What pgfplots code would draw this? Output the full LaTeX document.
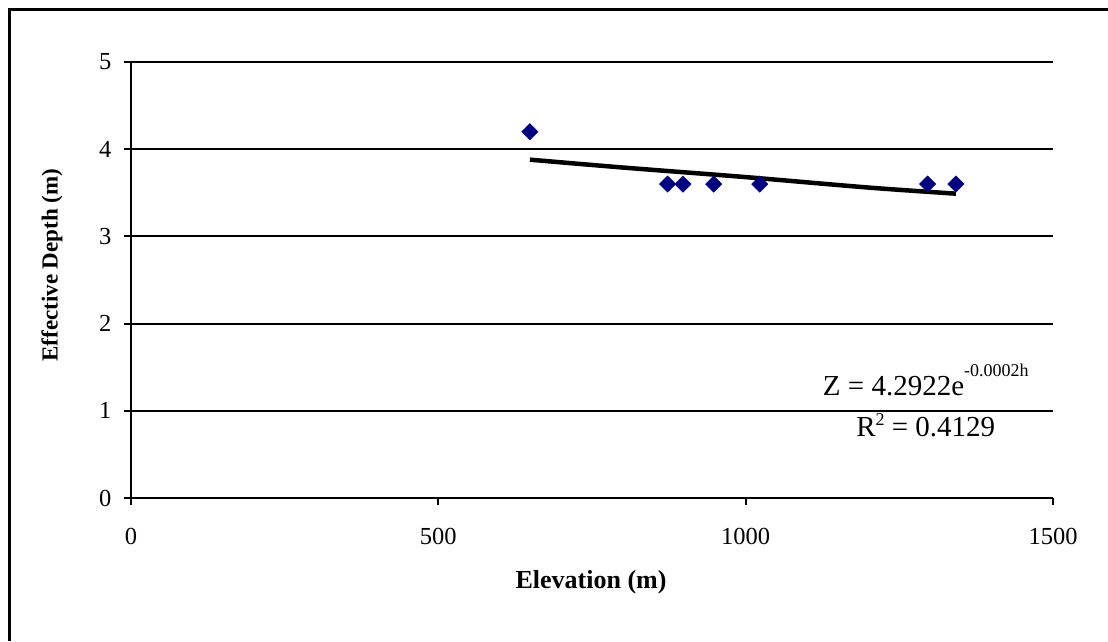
\documentclass[border=0pt]{standalone}
\usepackage{fontspec}
\setmainfont{Liberation Serif}
\usepackage{pgfplots}
\pgfplotsset{compat=1.18}
\definecolor{navymark}{HTML}{000080}
\begin{document}
\begin{tikzpicture}[x=1pt,y=1pt]
\useasboundingbox (0,0) rectangle (1108,641);
\draw[line width=2.5pt] (9.5,0) -- (9.5,631.5) -- (1108,631.5);
\begin{axis}[
  at={(131pt,143pt)}, anchor=south west,
  scale only axis, width=922pt, height=436pt,
  xmin=0, xmax=1500, ymin=0, ymax=5,
  axis x line=bottom, axis y line=left,
  axis line style={line width=2pt,-,black},
  xtick={0,500,1000,1500}, ytick={0,1,2,3,4,5},
  ymajorgrids, grid style={line width=2pt,black},
  tick style={line width=2pt,black},
  major tick length=7pt, tick align=outside,
  ticklabel style={font=\fontsize{24.5}{24.5}\selectfont},
  xticklabel style={yshift=-20pt},
  yticklabel style={xshift=-9pt},
  /pgf/number format/assume math mode=true,
  /pgf/number format/1000 sep={},
  clip=false,
]
\addplot[only marks, mark=square*, mark size=5.8pt, mark options={rotate=45, fill=navymark, draw=navymark}]
  coordinates {(649,4.2) (873,3.6) (898,3.6) (948,3.6) (1023,3.6) (1296,3.6) (1342,3.6)};
\addplot[black, line width=4.5pt, smooth, no marks]
  coordinates {(649,3.88) (800,3.79) (1000,3.68) (1200,3.56) (1342,3.49)};
\node[anchor=base, font=\fontsize{29}{29}\selectfont] at (axis cs:1293,1.181)
  {Z = 4.2922e\raisebox{19pt}{\fontsize{18}{18}\selectfont -0.0002h}};
\node[anchor=base, font=\fontsize{29}{29}\selectfont] at (axis cs:1293,0.711)
  {R\raisebox{11pt}{\fontsize{18}{18}\selectfont 2} = 0.4129};
\node[font=\fontsize{26}{26}\selectfont\bfseries] at (axis description cs:0.499,-0.193) {Elevation (m)};
\node[font=\fontsize{23}{23}\selectfont\bfseries, rotate=90] at (axis description cs:-0.0857,0.534) {Effective Depth (m)};
\end{axis}
\end{tikzpicture}
\end{document}
